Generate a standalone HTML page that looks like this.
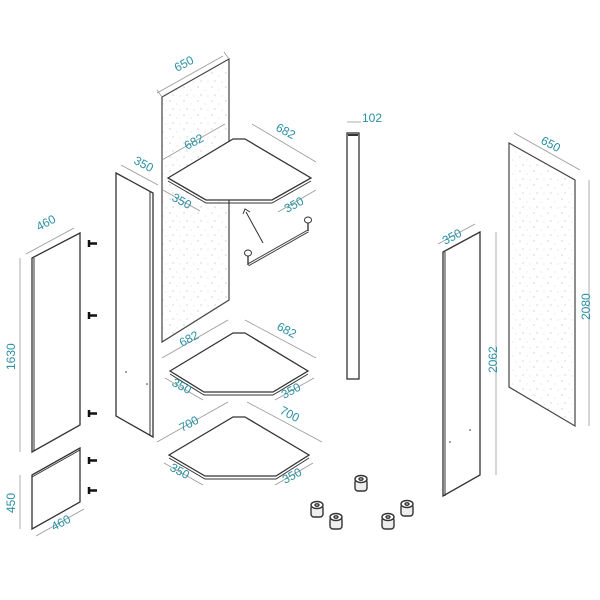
<!DOCTYPE html>
<html><head><style>
html,body{margin:0;padding:0;background:#fff;}
svg{display:block;}
text{font-family:"Liberation Sans",sans-serif;font-size:12px;fill:#2a90a2;}
.p{fill:#fff;stroke:#333;stroke-width:1.3;}
.d{stroke:#999;stroke-width:0.8;fill:none;}
</style></head><body>
<svg width="600" height="600" viewBox="0 0 600 600" xmlns="http://www.w3.org/2000/svg">
<defs>
<pattern id="sp" width="14" height="14" patternUnits="userSpaceOnUse">
<rect width="14" height="14" fill="#fff"/>
<circle cx="2" cy="3" r="0.6" fill="#bbb"/><circle cx="9" cy="6" r="0.5" fill="#ccc"/>
<circle cx="5" cy="11" r="0.6" fill="#bbb"/><circle cx="12" cy="12" r="0.5" fill="#ccc"/>
</pattern>
</defs>
<polygon points="162,97 229,59 229,300 162,342" fill="url(#sp)" stroke="#444" stroke-width="1.2"/>
<line class="d" x1="157" y1="93" x2="223" y2="56"/><line class="d" x1="162" y1="97" x2="157" y2="90"/><line class="d" x1="229" y1="59" x2="224" y2="52"/>
<text transform="translate(177,72) rotate(-28)">650</text>
<polygon class="p" points="32,258 80,233 80,425 32,452"/>
<line x1="34" y1="258" x2="34" y2="451" stroke="#333"/>
<line class="d" x1="26" y1="254" x2="74" y2="228"/>
<line class="d" x1="20" y1="258" x2="20" y2="452"/>
<text transform="translate(39,231) rotate(-28)">460</text>
<text transform="translate(15,370) rotate(-90)">1630</text>
<polygon class="p" points="32,475 80,448 80,502 32,529"/>
<line x1="32" y1="477" x2="80" y2="450" stroke="#333"/>
<line class="d" x1="20" y1="475" x2="20" y2="529"/>
<line class="d" x1="36" y1="536" x2="84" y2="509"/>
<text transform="translate(15,513) rotate(-90)">450</text>
<text transform="translate(54,531) rotate(-28)">460</text>
<g stroke="#111" stroke-width="2.5">
<line x1="89" y1="240" x2="89" y2="247"/><line x1="89" y1="243.5" x2="97" y2="243.5"/>
<line x1="89" y1="312" x2="89" y2="319"/><line x1="89" y1="315.5" x2="97" y2="315.5"/>
<line x1="89" y1="410" x2="89" y2="417"/><line x1="89" y1="413.5" x2="97" y2="413.5"/>
<line x1="89" y1="457" x2="89" y2="464"/><line x1="89" y1="460.5" x2="97" y2="460.5"/>
<line x1="89" y1="487" x2="89" y2="494"/><line x1="89" y1="490.5" x2="97" y2="490.5"/>
</g>
<polygon class="p" points="116,173 153,193 153,437 116,416"/>
<line x1="150" y1="192" x2="150" y2="436" stroke="#333"/>
<line class="d" x1="121" y1="165" x2="158" y2="185"/>
<text transform="translate(133,163) rotate(28)">350</text>
<circle cx="126" cy="372" r="0.8" fill="#333"/><circle cx="147" cy="384" r="0.8" fill="#333"/>
<polygon class="p" points="168,178 233,139 245,139 311,178 272,200 206,200"/>
<polyline fill="none" stroke="#333" points="168,181 206,203 272,203 311,181"/>
<line class="d" x1="162" y1="160" x2="225" y2="124"/><line class="d" x1="252" y1="124" x2="316" y2="162"/>
<line class="d" x1="163" y1="190" x2="200" y2="211"/><line class="d" x1="278" y1="212" x2="316" y2="190"/>
<text transform="translate(187,150) rotate(-28)">682</text>
<text transform="translate(275,130) rotate(28)">682</text>
<text transform="translate(171,200) rotate(28)">350</text>
<text transform="translate(287,213) rotate(-28)">350</text>
<line x1="263" y1="243" x2="246" y2="212" stroke="#333"/>
<polyline fill="none" stroke="#333" points="243,214 245,209 250,212"/>
<line x1="248" y1="265" x2="308" y2="231" stroke="#444" stroke-width="3"/>
<line x1="248" y1="265" x2="308" y2="231" stroke="#fff" stroke-width="1"/>
<line x1="248" y1="256" x2="248" y2="265" stroke="#444" stroke-width="1.5"/>
<line x1="308" y1="222" x2="308" y2="231" stroke="#444" stroke-width="1.5"/>
<ellipse cx="248" cy="253" rx="3.5" ry="3" fill="#fff" stroke="#333"/>
<ellipse cx="308" cy="220" rx="3.5" ry="3" fill="#fff" stroke="#333"/>
<polygon class="p" points="170,371 233,333 245,333 308,371 273,392 204,392"/>
<polyline fill="none" stroke="#333" points="170,374 204,395 273,395 308,374"/>
<line class="d" x1="162" y1="358" x2="228" y2="320"/><line class="d" x1="245" y1="320" x2="316" y2="358"/>
<line class="d" x1="165" y1="378" x2="203" y2="400"/><line class="d" x1="275" y1="400" x2="314" y2="378"/>
<text transform="translate(182,347) rotate(-28)">682</text>
<text transform="translate(276,329) rotate(28)">682</text>
<text transform="translate(171,385) rotate(28)">350</text>
<text transform="translate(284,399) rotate(-28)">350</text>
<polygon class="p" points="169,455 233,417 245,417 309,455 276,476 205,476"/>
<polyline fill="none" stroke="#333" points="169,458 205,479 276,479 309,458"/>
<line class="d" x1="157" y1="442" x2="228" y2="402"/><line class="d" x1="247" y1="402" x2="322" y2="442"/>
<line class="d" x1="164" y1="463" x2="203" y2="485"/><line class="d" x1="275" y1="485" x2="313" y2="463"/>
<text transform="translate(182,432) rotate(-28)">700</text>
<text transform="translate(279,413) rotate(28)">700</text>
<text transform="translate(169,470) rotate(28)">350</text>
<text transform="translate(285,484) rotate(-28)">350</text>
<rect class="p" x="347" y="133" width="12" height="246"/>
<line x1="348" y1="135" x2="358" y2="135" stroke="#333" stroke-width="2"/>
<line class="d" x1="347" y1="122" x2="361" y2="122"/>
<text x="362" y="122">102</text>
<polygon class="p" points="443,252 480,232 480,475 443,496"/>
<line x1="445" y1="252" x2="445" y2="496" stroke="#333"/>
<line class="d" x1="438" y1="244" x2="475" y2="224"/>
<line class="d" x1="496" y1="232" x2="496" y2="475"/>
<text transform="translate(445,245) rotate(-28)">350</text>
<text transform="translate(497,373) rotate(-90)">2062</text>
<circle cx="450" cy="442" r="0.8" fill="#333"/><circle cx="470" cy="430" r="0.8" fill="#333"/>
<polygon points="509,143 575,180 575,426 509,387" fill="url(#sp)" stroke="#444" stroke-width="1.2"/>
<line class="d" x1="514" y1="133" x2="580" y2="170"/>
<line class="d" x1="589" y1="180" x2="589" y2="426"/>
<text transform="translate(540,143) rotate(28)">650</text>
<text transform="translate(590,320) rotate(-90)">2080</text>
<g fill="#eee" stroke="#333" stroke-width="1.4">
<g transform="translate(361,483)"><rect x="-6" y="-4" width="12" height="12" rx="3"/><ellipse cx="0" cy="-4" rx="6" ry="3.5" fill="#fff"/><ellipse cx="0" cy="-4" rx="2" ry="1.2"/></g>
<g transform="translate(317,509)"><rect x="-6" y="-4" width="12" height="12" rx="3"/><ellipse cx="0" cy="-4" rx="6" ry="3.5" fill="#fff"/><ellipse cx="0" cy="-4" rx="2" ry="1.2"/></g>
<g transform="translate(336,521)"><rect x="-6" y="-4" width="12" height="12" rx="3"/><ellipse cx="0" cy="-4" rx="6" ry="3.5" fill="#fff"/><ellipse cx="0" cy="-4" rx="2" ry="1.2"/></g>
<g transform="translate(388,521)"><rect x="-6" y="-4" width="12" height="12" rx="3"/><ellipse cx="0" cy="-4" rx="6" ry="3.5" fill="#fff"/><ellipse cx="0" cy="-4" rx="2" ry="1.2"/></g>
<g transform="translate(407,508)"><rect x="-6" y="-4" width="12" height="12" rx="3"/><ellipse cx="0" cy="-4" rx="6" ry="3.5" fill="#fff"/><ellipse cx="0" cy="-4" rx="2" ry="1.2"/></g>
</g>
</svg>
</body></html>
